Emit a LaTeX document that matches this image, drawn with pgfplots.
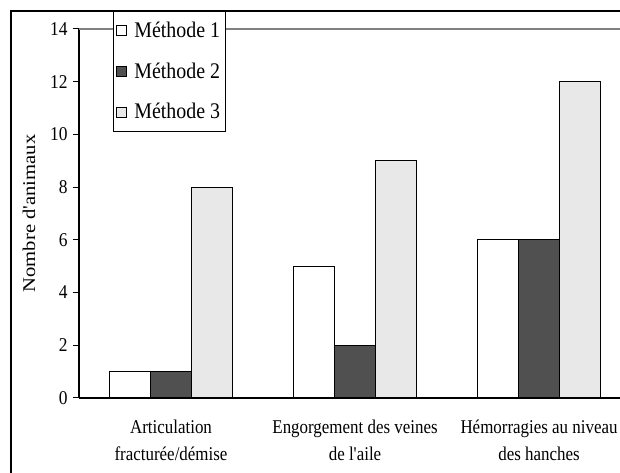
\documentclass[border=0pt]{standalone}
\usepackage{fontspec}
\setmainfont{Liberation Serif}
\usepackage{pgfplots}
\pgfplotsset{compat=1.18}
\definecolor{mtwo}{HTML}{505050}
\definecolor{mthree}{HTML}{E8E8E8}
\begin{document}
\begin{tikzpicture}[x=1bp,y=1bp]
\path[use as bounding box] (-79,-75) rectangle (541,398);
\clip (-79,-75) rectangle (541,398);
\draw[line width=1.3bp] (-68,-90) -- (-68,387) -- (560,387);
\begin{axis}[
  at={(0,0)}, anchor=south west,
  scale only axis, width=541bp, height=369bp,
  xmin=-0.5, xmax=2.44, ymin=0, ymax=14,
  ybar=0pt, bar width=41bp,
  clip=false,
  axis x line*=bottom, axis y line*=left,
  axis line style={-, line width=1.2bp, black},
  xtick={0,1,2},
  xticklabels={{Articulation\\fracturée/démise},{Engorgement des veines\\de l\textquotesingle aile},{Hémorragies au niveau\\des hanches}},
  x tick style={draw=none},
  ytick={0,2,...,14},
  y tick style={line width=1bp, black},
  tick align=outside, major tick length=6bp,
  /pgf/number format/assume math mode=true,
  yticklabel style={font=\fontsize{17.5}{20}\selectfont, yscale=1.12, xshift=-2bp},
  xticklabel style={font=\fontsize{17}{23.5}\selectfont, align=center, yshift=-12bp, yscale=1.15},
  ylabel={Nombre d\textquotesingle animaux},
  ylabel style={font=\fontsize{18}{22}\selectfont, at={(axis description cs:-0.0924,0.5)}, anchor=center, xscale=1.15},
  legend style={at={(axis description cs:0.0628,1.0488)}, anchor=north west,
    draw=black, line width=0.8bp, fill=white, font=\fontsize{20}{24}\selectfont,
    nodes={yscale=1.12},
    row sep=19bp, inner xsep=3bp, inner ysep=8.5bp, legend cell align=left},
  legend image code/.code={\draw[#1, draw=black, line width=0.8bp] (9bp,-5bp) rectangle (19bp,5bp); \path (24bp,0bp);},
]
\draw[gray, line width=1.2bp] (rel axis cs:0,1) -- (rel axis cs:1.1,1);
\addplot[draw=black, line width=1.1bp, fill=white] coordinates {(0,1) (1,5) (2,6)};
\addplot[draw=black, line width=1.1bp, fill=mtwo] coordinates {(0,1) (1,2) (2,6)};
\addplot[draw=black, line width=1.1bp, fill=mthree] coordinates {(0,8) (1,9) (2,12)};
\legend{Méthode 1, Méthode 2, Méthode 3}
\end{axis}
\end{tikzpicture}
\end{document}
